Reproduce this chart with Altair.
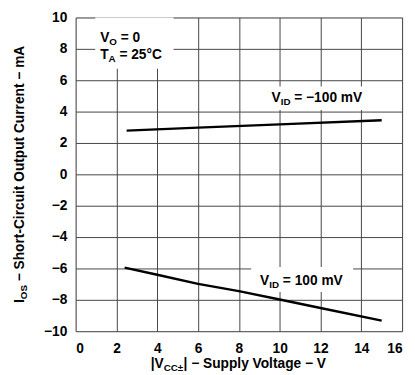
import altair as alt
import pandas as pd

# ---------------- data ----------------
vcc_neg = [2.5, 6, 10, 15]
ios_neg = [2.79, 2.98, 3.19, 3.45]
vcc_pos = [2.4, 4, 6, 8, 10, 12, 15]
ios_pos = [-5.95, -6.4, -6.98, -7.45, -7.98, -8.52, -9.32]
series_names = ["VID = −100 mV", "VID = 100 mV"]
x_ticks = list(range(0, 17, 2))
y_ticks = list(range(-10, 11, 2))

# annotation texts (main / subscript / rest)
cond1 = ["V", "O", " = 0"]
cond2 = ["T", "A", " = 25°C"]
lab_neg = ["V", "ID", " = −100 mV"]
lab_pos = ["V", "ID", " = 100 mV"]
ytitle = ["I", "OS", " − Short-Circuit Output Current − mA"]
xtitle = ["|V", "CC±", "| − Supply Voltage − V"]

# white boxes behind the annotations, in data units
box_x = [0.96, 9.2, 8.6]
box_x2 = [4.8, 14.6, 13.6]
box_y = [10.0, 5.6, -5.9]
box_y2 = [6.73, 4.1, -7.5]

# ---------------- layout ----------------
W, H = 333, 320
PAD = {"left": 69, "top": 6, "right": 5, "bottom": 41}
FONT = "Liberation Sans, Arial, Helvetica, sans-serif"
FS, SFS, SDY = 14, 10, 3

AW = {' ': 278, '=': 584, '−': 584, 'm': 889, 'V': 667, 'I': 278, 'D': 722,
      'O': 778, 'T': 611, 'A': 722, '°': 400, 'C': 722, 'S': 667, 'h': 611,
      'o': 611, 'r': 389, 't': 333, '-': 333, 'i': 278, 'c': 556, 'u': 611,
      'p': 611, 'n': 611, 'e': 556, 'l': 278, 'y': 556, 'a': 556, 'g': 611,
      '|': 280, '±': 584}
for d in "0123456789":
    AW[d] = 556


def tw(s, size):
    return sum(AW.get(c, 600) for c in s) * size / 1000.0


one = pd.DataFrame({"k": [0]})
xs = alt.Scale(domain=[0, 16], nice=False, zero=False)
ys = alt.Scale(domain=[-10, 10], nice=False, zero=False)

axis_common = dict(grid=True, gridColor="#444444", gridWidth=1, domain=False,
                   ticks=False, tickSize=0, labelFont=FONT, labelFontSize=14,
                   labelFontWeight="bold", labelColor="black", title=None,
                   labelExpr="replace(datum.label, '-', '−')")
xaxis = alt.Axis(values=x_ticks, labelPadding=11, **axis_common)
yaxis = alt.Axis(values=y_ticks, labelPadding=9, **axis_common)


def rich(parts, enc_fn, angle=0):
    sizes = [FS, SFS, FS]
    dys = [0, SDY, 0]
    layers = []
    off = 0.0
    for txt, size, dy in zip(parts, sizes, dys):
        stripped = txt.lstrip(" ")
        off += tw(txt[: len(txt) - len(stripped)], size)
        mk = dict(text=stripped, font=FONT, fontSize=size, fontWeight="bold",
                  align="left", baseline="alphabetic", dx=off, dy=dy,
                  color="black")
        if angle:
            mk["angle"] = angle
        layers.append(alt.Chart(one).mark_text(**mk).encode(**enc_fn()))
        off += tw(stripped, size)
    return layers


def data_rich(parts, xv, yv):
    def enc():
        return dict(x=alt.X("ax:Q", scale=xs, axis=xaxis),
                    y=alt.Y("ay:Q", scale=ys, axis=yaxis))
    return [l.transform_calculate(ax=str(xv), ay=str(yv)) for l in rich(parts, enc)]


# lines
rows = []
for v, i in zip(vcc_neg, ios_neg):
    rows.append({"v": v, "i": i, "s": series_names[0]})
for v, i in zip(vcc_pos, ios_pos):
    rows.append({"v": v, "i": i, "s": series_names[1]})
df = pd.DataFrame(rows)

boxes = alt.Chart(pd.DataFrame({"x": box_x, "x2": box_x2, "y": box_y, "y2": box_y2})).mark_rect(
    fill="white", strokeWidth=0).encode(
    x=alt.X("x:Q", scale=xs, axis=xaxis), x2="x2:Q",
    y=alt.Y("y:Q", scale=ys, axis=yaxis), y2="y2:Q")

lines = alt.Chart(df).mark_line(color="black", strokeWidth=2.4).encode(
    x=alt.X("v:Q", scale=xs, axis=xaxis),
    y=alt.Y("i:Q", scale=ys, axis=yaxis),
    detail="s:N",
)

ann = []
ann += data_rich(cond1, 1.2, 8.42)
ann += data_rich(cond2, 1.2, 7.38)
ann += data_rich(lab_neg, 9.6, 4.62)
ann += data_rich(lab_pos, 9.04, -7.03)

# axis titles with subscripts
ytot = tw(ytitle[0], FS) + tw(ytitle[1], SFS) + tw(ytitle[2], FS)
xtot = tw(xtitle[0], FS) + tw(xtitle[1], SFS) + tw(xtitle[2], FS)
ylay = rich(ytitle, lambda: dict(x=alt.value(-52.5), y=alt.value(H / 2 + ytot / 2)), angle=270)
xlay = rich(xtitle, lambda: dict(x=alt.value(W / 2 - xtot / 2), y=alt.value(H + 38)))

chart = alt.layer(boxes, lines, *ann, *ylay, *xlay).properties(
    width=W, height=H,
    padding=PAD,
    autosize=alt.AutoSizeParams(type="none"),
).configure_view(stroke="#666666", strokeWidth=2).configure(background="white")

chart.save("out.html", embed_options={"renderer": "svg", "actions": False})
